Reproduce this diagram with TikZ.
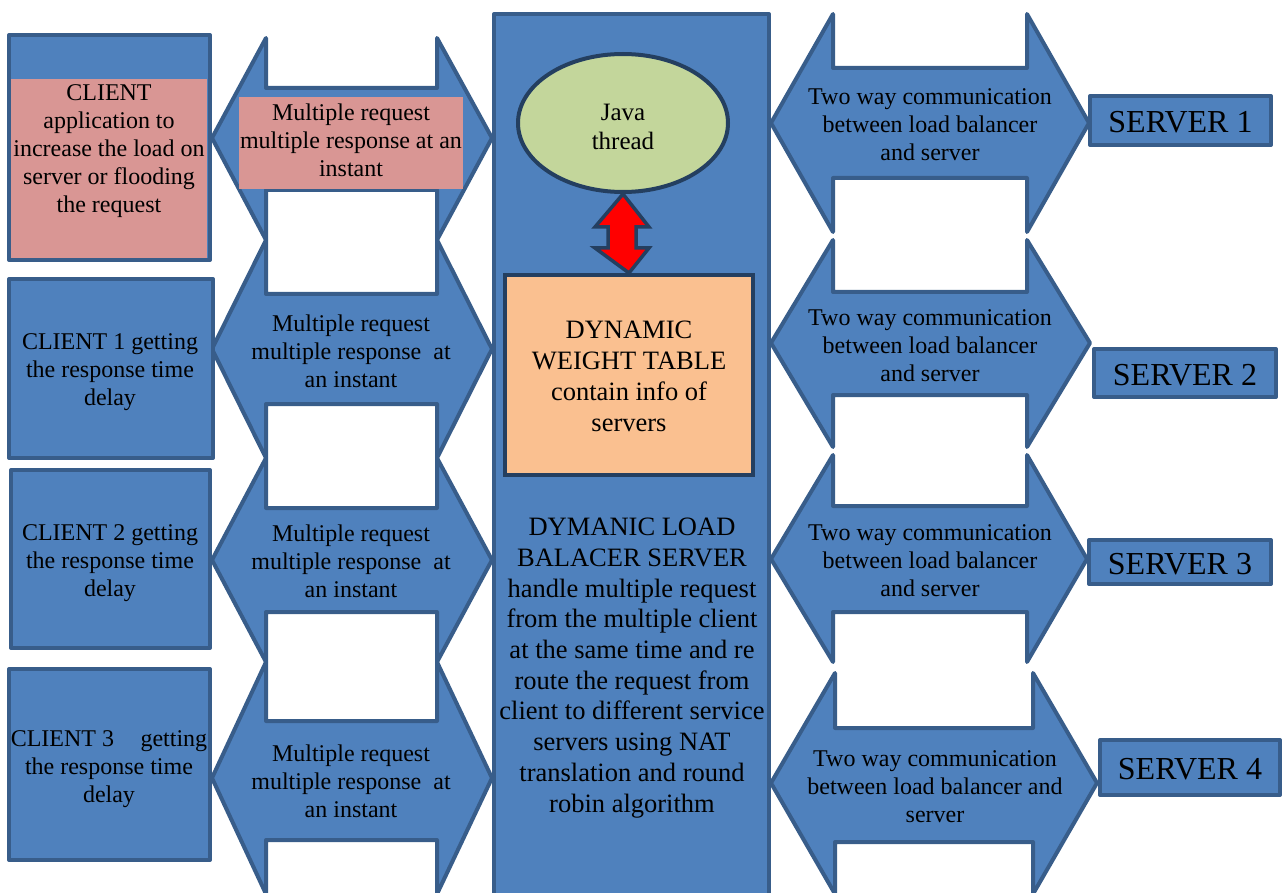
\documentclass[tikz,border=0pt]{standalone}
\usepackage{fontspec}
\setmainfont{Liberation Serif}
\usetikzlibrary{shapes.geometric}
\definecolor{bfill}{HTML}{4F81BD}
\definecolor{bline}{HTML}{385D8A}
\definecolor{pinkc}{HTML}{D99694}
\definecolor{orangec}{HTML}{FAC090}
\definecolor{greenc}{HTML}{C3D69B}
\definecolor{darkc}{HTML}{243F60}
\begin{document}
\begin{tikzpicture}[x=1pt,y=-1pt,
  blk/.style={fill=bfill,draw=bline,line width=4pt,line join=round},
  boxn/.style={blk,rectangle,inner sep=0pt},
  txt/.style={align=center,inner sep=0pt,font=\fontsize{24}{28}\selectfont},
  srvtxt/.style={inner sep=0pt,font=\fontsize{32}{36}\selectfont},
]
\useasboundingbox (0,0) rectangle (1283,893);
\clip (0,0) rectangle (1283,893);

% central load balancer
\node[boxn,minimum width=275pt,minimum height=920pt] (lb) at (631.5,474) {};
\node[ellipse,fill=greenc,draw=darkc,line width=4pt,minimum width=210pt,minimum height=138pt,inner sep=0pt] (java) at (623,123) {};
\node[txt,font=\fontsize{25}{29}\selectfont,yshift=-4pt] (javatext) at (java.center) {Java\\thread};
\node[rectangle,fill=orangec,draw=darkc,line width=4pt,minimum width=248pt,minimum height=200pt,inner sep=0pt] (dwt) at (629,375) {};
\node[txt,font=\fontsize{26.5}{31}\selectfont,yshift=-1pt] (dwttext) at (dwt.center) {DYNAMIC\\WEIGHT TABLE\\contain info of\\servers};
\node[txt,font=\fontsize{26.5}{30.7}\selectfont] (lbtext) at (632,668) {DYMANIC LOAD\\BALACER SERVER\\handle multiple request\\from the multiple client\\at the same time and re\\route the request from\\client to different service\\servers using NAT\\translation and round\\robin algorithm};

% red double arrow between java thread and weight table
\draw[fill=red,draw=darkc,line width=3.5pt,line join=miter]
  (java.south) -- (649,227) -- (636,227) -- (636,248) -- (649,248) -- (dwt.north)
  -- (595,248) -- (608,248) -- (608,227) -- (595,227) -- cycle;

% left block arrows
\draw[blk] (212,138) -- (266,38) -- (266,88) -- (437,88) -- (437,38) -- (492,138) -- (437,240) -- (437,190) -- (266,190) -- (266,240) -- cycle;
\draw[blk] (212,349) -- (266,240) -- (266,294) -- (437,294) -- (437,240) -- (492,349) -- (437,458) -- (437,404) -- (266,404) -- (266,458) -- cycle;
\draw[blk] (212,560) -- (266,458) -- (266,508) -- (437,508) -- (437,458) -- (492,560) -- (437,662) -- (437,612) -- (266,612) -- (266,662) -- cycle;
\draw[blk] (212,778) -- (266,662) -- (266,721) -- (437,721) -- (437,662) -- (492,778) -- (437,894) -- (437,840) -- (266,840) -- (266,894) -- cycle;

% right block arrows
\draw[blk] (771,123) -- (833,14) -- (833,68) -- (1027,68) -- (1027,14) -- (1089,123) -- (1027,232) -- (1027,178) -- (833,178) -- (833,232) -- cycle;
\draw[blk] (771,343) -- (833,240) -- (833,292) -- (1027,292) -- (1027,240) -- (1090,343) -- (1027,447) -- (1027,395) -- (833,395) -- (833,447) -- cycle;
\draw[blk] (771,559) -- (833,455) -- (833,506) -- (1027,506) -- (1027,455) -- (1087,559) -- (1027,662) -- (1027,612) -- (833,612) -- (833,662) -- cycle;
\draw[blk] (771,783) -- (835,673) -- (835,728) -- (1033,728) -- (1033,673) -- (1097,783) -- (1033,894) -- (1033,842) -- (835,842) -- (835,894) -- cycle;

% clients
\node[boxn,minimum width=201pt,minimum height=225pt] (c0) at (109.5,147.5) {};
\fill[pinkc] (11,79) rectangle (207,258);
\node[txt] (c0text) at (109,151) {CLIENT\\application to\\increase the load on\\server or flooding\\the request};
\node[boxn,minimum width=204pt,minimum height=179pt] (c1) at (111,368.5) {};
\node[txt] (c1text) at (110,372) {CLIENT 1 getting\\the response time\\delay};
\node[boxn,minimum width=199pt,minimum height=178pt] (c2) at (110.5,559) {};
\node[txt] (c2text) at (110,563) {CLIENT 2 getting\\the response time\\delay};
\node[boxn,minimum width=201pt,minimum height=191pt] (c3) at (109.5,764.5) {};
\node[txt] (c3text) at (109,769) {CLIENT 3\hspace{1.1em}getting\\the response time\\delay};

% left arrow labels
\fill[pinkc] (239,97) rectangle (463,189);
\node[txt] (l0) at (351,140) {Multiple request\\multiple response at an\\instant};
\node[txt] (l1) at (351,351) {Multiple request\\multiple response\ \ at\\an instant};
\node[txt] (l2) at (351,561) {Multiple request\\multiple response\ \ at\\an instant};
\node[txt] (l3) at (351,781) {Multiple request\\multiple response\ \ at\\an instant};

% right arrow labels
\node[txt] (r1) at (930,125) {Two way communication\\between load balancer\\and server};
\node[txt] (r2) at (930,346) {Two way communication\\between load balancer\\and server};
\node[txt] (r3) at (930,561) {Two way communication\\between load balancer\\and server};
\node[txt] (r4) at (935,787) {Two way communication\\between load balancer and\\server};

% servers
\node[boxn,minimum width=181pt,minimum height=49pt] (s1) at (1180.5,120.5) {};
\node[srvtxt,yshift=-2pt] at (s1.center) {SERVER 1};
\node[boxn,minimum width=182pt,minimum height=48pt] (s2) at (1185,373) {};
\node[srvtxt,yshift=-2pt] at (s2.center) {SERVER 2};
\node[boxn,minimum width=182pt,minimum height=44pt] (s3) at (1180,562) {};
\node[srvtxt,yshift=-2pt] at (s3.center) {SERVER 3};
\node[boxn,minimum width=180pt,minimum height=55pt] (s4) at (1190,767.5) {};
\node[srvtxt,yshift=-2pt] at (s4.center) {SERVER 4};
\end{tikzpicture}
\end{document}
